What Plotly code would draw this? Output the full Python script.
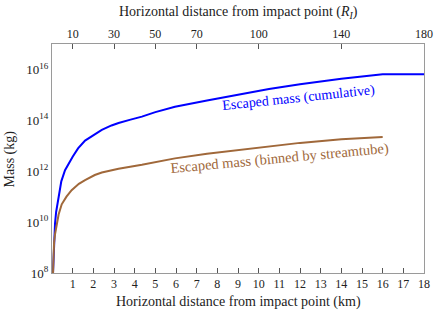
import plotly.graph_objects as go

# Cumulative escaped mass (blue)
cum_km = [0.05, 0.08, 0.1, 0.146, 0.2, 0.3, 0.45, 0.63, 0.9, 1.0, 1.26, 1.6, 2.07, 2.41, 2.88, 3.22,
          3.8, 4.35, 5.0, 5.95, 7.5, 8.94, 10.5, 12.0, 14.0, 16.0, 18.0]
cum_mass = [1.0e8, 7.9e8, 2.5e9, 8.7e9, 2.5e10, 8.9e10, 4.0e11, 1.1e12, 2.8e12, 3.7e12, 7.9e12, 1.6e13,
            2.8e13, 4.2e13, 6.3e13, 7.9e13, 1.07e14, 1.4e14, 2.1e14, 3.4e14, 6.0e14, 9.8e14, 1.7e15,
            2.6e15, 4.3e15, 6.5e15, 6.5e15]

# Escaped mass binned by streamtube (brown)
bin_km = [0.05, 0.08, 0.1, 0.15, 0.23, 0.32, 0.47, 0.7, 0.95, 1.3, 1.6, 2.07, 2.41, 3.22, 4.35,
          5.95, 7.5, 8.94, 10.5, 12.0, 14.0, 16.0]
bin_mass = [1.0e8, 7.9e8, 1.6e9, 3.5e9, 7.9e9, 2.0e10, 5.0e10, 1.0e11, 1.8e11, 3.2e11, 4.5e11, 7.1e11,
            8.9e11, 1.26e12, 1.8e12, 3.2e12, 4.9e12, 6.8e12, 9.5e12, 1.3e13, 1.8e13, 2.2e13]

x_ticks = list(range(1, 19))
top_ticks = [10, 30, 50, 70, 100, 140, 180]
y_ticks = [1e8, 1e10, 1e12, 1e14, 1e16]
y_ticktext = ["10<sup>8</sup>", "10<sup>10</sup>", "10<sup>12</sup>", "10<sup>14</sup>", "10<sup>16</sup>"]

FONT = "Liberation Serif, Times New Roman, serif"
BLUE = "#0000ff"
BROWN = "#a0683a"
AX = "#9a9a9a"
TXT = "#222222"

fig = go.Figure()
fig.add_trace(go.Scatter(x=cum_km, y=cum_mass, mode="lines", line=dict(color=BLUE, width=2),
                         showlegend=False))
fig.add_trace(go.Scatter(x=bin_km, y=bin_mass, mode="lines", line=dict(color=BROWN, width=2),
                         showlegend=False))
# invisible trace to activate the top axis
fig.add_trace(go.Scatter(x=[0, 180], y=[1e8, 1e8], xaxis="x2", mode="lines", line=dict(width=0),
                         hoverinfo="skip", showlegend=False))

fig.update_layout(
    width=436, height=318,
    margin=dict(l=52, r=12, t=44, b=45),
    plot_bgcolor="white", paper_bgcolor="white",
    font=dict(family=FONT, size=13, color=TXT),
    xaxis=dict(range=[0, 18], tickvals=x_ticks, ticks="inside", ticklen=5, tickcolor="#555",
               showline=True, linecolor=AX, linewidth=1, showgrid=False, zeroline=False,
               automargin=False, tickfont=dict(size=12)),
    xaxis2=dict(range=[0, 180], overlaying="x", side="top", tickvals=top_ticks, ticks="inside", ticklen=5,
                tickcolor="#555", showline=True, linecolor=AX, linewidth=1, showgrid=False,
                zeroline=False, automargin=False, tickfont=dict(size=12)),
    yaxis=dict(type="log", range=[8, 17], tickvals=y_ticks, ticktext=y_ticktext, ticks="",
               showline=True, linecolor=AX, linewidth=1, mirror=True, showgrid=False, zeroline=False,
               automargin=False, tickfont=dict(size=13)),
    annotations=[
        dict(x=0.5, y=-0.1245, xref="paper", yref="paper", text="Horizontal distance from impact point (km)",
             showarrow=False, xanchor="center", yanchor="middle", font=dict(size=14, family=FONT, color=TXT)),
        dict(x=0.5, y=1.1397, xref="paper", yref="paper",
             text="Horizontal distance from impact point (<i>R<sub>I</sub></i>)",
             showarrow=False, xanchor="center", yanchor="middle", font=dict(size=14, family=FONT, color=TXT)),
        dict(x=-0.113, y=0.5, xref="paper", yref="paper", text="Mass (kg)", textangle=-90,
             showarrow=False, xanchor="center", yanchor="middle", font=dict(size=14, family=FONT, color=TXT)),
        dict(x=11.96, y=14.88, xref="x", yref="y", text="Escaped mass (cumulative)", showarrow=False,
             textangle=-6, font=dict(color=BLUE, size=14, family=FONT)),
        dict(x=10.99, y=12.51, xref="x", yref="y", text="Escaped mass (binned by streamtube)", showarrow=False,
             textangle=-5.3, font=dict(color=BROWN, size=14.5, family=FONT)),
    ],
)

fig.write_html("out.html", config={"displayModeBar": False},
               post_script="document.body.style.margin='0';document.body.style.overflow='hidden';")
